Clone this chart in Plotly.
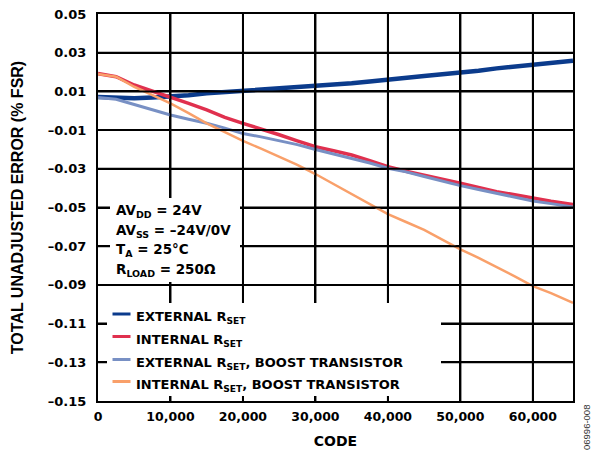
import plotly.graph_objects as go

# ---------------- data ----------------
codes = [0, 2500, 5000, 7500, 10000, 12500, 15000, 17500, 20000, 22500, 25000, 27500,
         30000, 32500, 35000, 37500, 40000, 42500, 45000, 47500, 50000, 52500, 55000,
         57500, 60000, 62500, 65535]

ext_rset = [0.0071, 0.0068, 0.0064, 0.0068, 0.0073, 0.0080, 0.0090, 0.0096, 0.0102, 0.0107,
            0.0117, 0.0122, 0.0128, 0.0135, 0.0142, 0.0151, 0.0162, 0.0171, 0.0180, 0.0189,
            0.0197, 0.0207, 0.0219, 0.0228, 0.0236, 0.0246, 0.0258]

int_rset = [0.0192, 0.0176, 0.0133, 0.0102, 0.0073, 0.0038, 0.0004, -0.0034, -0.0065, -0.0093,
            -0.0124, -0.0156, -0.0186, -0.0207, -0.0229, -0.0258, -0.0289, -0.0313, -0.0335,
            -0.0355, -0.0375, -0.0396, -0.0418, -0.0434, -0.0452, -0.0468, -0.0485]

ext_rset_boost = [0.0068, 0.0059, 0.0032, 0.0005, -0.0022, -0.0044, -0.0065, -0.0090, -0.0118,
                  -0.0135, -0.0155, -0.0175, -0.0200, -0.0222, -0.0246, -0.0270, -0.0297,
                  -0.0316, -0.0340, -0.0364, -0.0387, -0.0407, -0.0427, -0.0447, -0.0466,
                  -0.0480, -0.0497]

int_rset_boost = [0.0190, 0.0176, 0.0124, 0.0080, 0.0038, -0.0012, -0.0065, -0.0110, -0.0156,
                  -0.0196, -0.0236, -0.0280, -0.0327, -0.0378, -0.0428, -0.0482, -0.0534,
                  -0.0575, -0.0616, -0.0666, -0.0716, -0.0760, -0.0806, -0.0856, -0.0906,
                  -0.0942, -0.0993]

x_tickvals = [0, 10000, 20000, 30000, 40000, 50000, 60000]
x_ticktext = ["0", "10,000", "20,000", "30,000", "40,000", "50,000", "60,000"]
y_tickvals = [0.05, 0.03, 0.01, -0.01, -0.03, -0.05, -0.07, -0.09, -0.11, -0.13, -0.15]
y_ticktext = ["0.05", "0.03", "0.01", "–0.01", "–0.03", "–0.05", "–0.07", "–0.09",
              "–0.11", "–0.13", "–0.15"]

series_names = ["EXTERNAL R<sub>SET</sub>", "INTERNAL R<sub>SET</sub>",
                "EXTERNAL R<sub>SET</sub>, BOOST TRANSISTOR",
                "INTERNAL R<sub>SET</sub>, BOOST TRANSISTOR"]
conditions = ["AV<sub>DD</sub> = 24V", "AV<sub>SS</sub> = –24V/0V",
              "T<sub>A</sub> = 25°C", "R<sub>LOAD</sub> = 250Ω"]

# ---------------- style ----------------
colors = ["#0b3b8c", "#e0304e", "#7890c4", "#f9a06a"]
widths = [4.5, 3.5, 3.0, 2.5]
FONT = "DejaVu Sans"
X_RANGE = [0, 65535]
Y_RANGE = [-0.15, 0.05]

W, H = 592, 454
ML, MR, MT, MB = 98, 19, 14, 53
PW, PH = W - ML - MR, H - MT - MB


def px(xp):
    return (xp - ML) / PW


def py(yp):
    return (H - MB - yp) / PH


fig = go.Figure()
for name, ys, c, w in zip(series_names, [ext_rset, int_rset, ext_rset_boost, int_rset_boost],
                          colors, widths):
    fig.add_trace(go.Scatter(x=codes, y=ys, mode="lines", name=name,
                             line=dict(color=c, width=w), showlegend=False))

shapes = []
# grid at the tick positions, drawn over the curves as in the original
for v in x_tickvals:
    if X_RANGE[0] < v < X_RANGE[1]:
        shapes.append(dict(type="line", xref="x", yref="paper", x0=v, x1=v, y0=0, y1=1,
                           line=dict(color="black", width=2), layer="above"))
for v in y_tickvals:
    if Y_RANGE[0] < v < Y_RANGE[1]:
        shapes.append(dict(type="line", xref="paper", yref="y", x0=0, x1=1, y0=v, y1=v,
                           line=dict(color="black", width=2), layer="above"))

# white boxes behind conditions text and legend (they mask the grid)
shapes.append(dict(type="rect", xref="paper", yref="paper", x0=px(110), x1=px(240),
                   y0=py(282), y1=py(198), fillcolor="white", line=dict(width=0),
                   layer="above"))
shapes.append(dict(type="rect", xref="paper", yref="paper", x0=px(107), x1=px(441),
                   y0=py(396), y1=py(303), fillcolor="white", line=dict(width=0),
                   layer="above"))

annotations = []
leg_rows = [314, 336.5, 359.5, 381.5]
for name, c, yr in zip(series_names, colors, leg_rows):
    shapes.append(dict(type="line", xref="paper", yref="paper", x0=px(112.5), x1=px(130.5),
                       y0=py(yr), y1=py(yr), line=dict(color=c, width=3), layer="above"))
    annotations.append(dict(x=px(134), y=py(yr - 7), xref="paper", yref="paper", text=name,
                            showarrow=False, xanchor="left", yanchor="top",
                            font=dict(family=FONT, size=13, color="black", weight="bold")))

cond_rows = [210, 229.5, 249, 268.5]
for t, yr in zip(conditions, cond_rows):
    annotations.append(dict(x=px(114), y=py(yr - 10), xref="paper", yref="paper", text=t,
                            showarrow=False, xanchor="left", yanchor="top",
                            font=dict(family=FONT, size=13.5, color="black", weight="bold")))

annotations.append(dict(x=px(587), y=py(428), xref="paper", yref="paper", text="06996-008",
                        showarrow=False, textangle=-90, xanchor="center", yanchor="middle",
                        font=dict(family="Liberation Sans", size=9.5, color="#333")))

fig.update_layout(
    width=W, height=H,
    margin=dict(l=ML, r=MR, t=MT, b=MB, pad=0),
    paper_bgcolor="white", plot_bgcolor="white",
    shapes=shapes, annotations=annotations,
    showlegend=False,
    xaxis=dict(range=X_RANGE, tickvals=x_tickvals, ticktext=x_ticktext,
               showgrid=True, gridcolor="black", gridwidth=2, automargin=False,
               showline=True, linecolor="black", linewidth=2, mirror=True,
               ticks="", zeroline=False, ticklabelstandoff=3,
               tickfont=dict(family=FONT, size=12.5, color="black", weight="bold"),
               title=dict(text="CODE", standoff=13,
                          font=dict(family=FONT, size=14, color="black", weight="bold"))),
    yaxis=dict(range=Y_RANGE, tickvals=y_tickvals, ticktext=y_ticktext,
               showgrid=True, gridcolor="black", gridwidth=2, automargin=False,
               showline=True, linecolor="black", linewidth=2, mirror=True,
               ticks="", zeroline=False, ticklabelstandoff=7,
               tickfont=dict(family=FONT, size=13, color="black", weight="bold"),
               title=dict(text="TOTAL UNADJUSTED ERROR (% FSR)", standoff=20,
                          font=dict(family="Liberation Sans", size=16, color="black",
                                    weight="bold"))),
)

fig.write_html("out.html", config={"displayModeBar": False},
               post_script="document.body.style.margin='0px';")
